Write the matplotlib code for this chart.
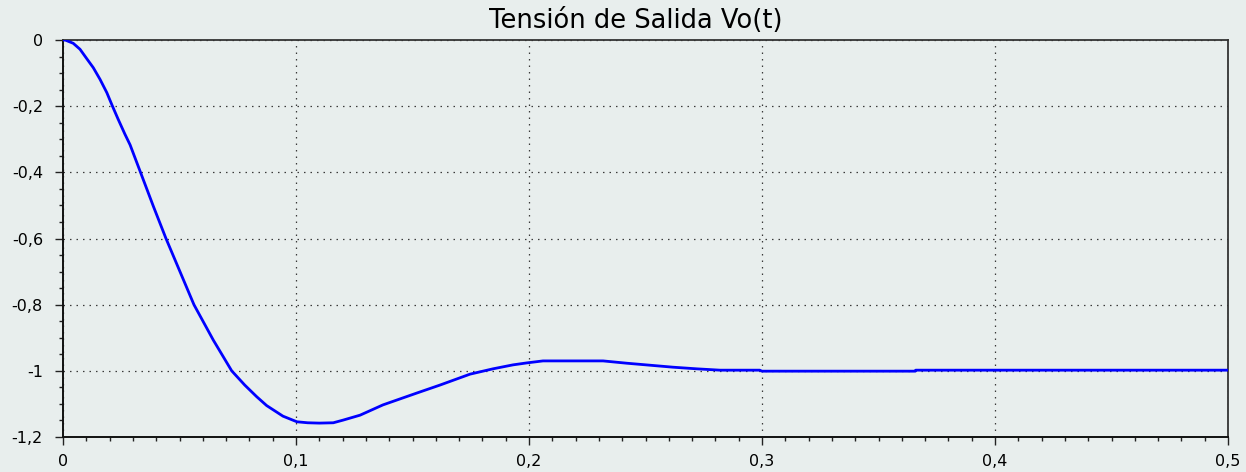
import matplotlib
matplotlib.use("Agg")
import matplotlib.pyplot as plt
from matplotlib.ticker import MultipleLocator, FuncFormatter

# Data
t = [0.0, 0.0009, 0.0044, 0.0073, 0.0102, 0.0130, 0.0159, 0.0188, 0.0212, 0.0237,
     0.0266, 0.0288, 0.033, 0.0388, 0.0442, 0.0502, 0.0562, 0.0645, 0.0724, 0.0780,
     0.0831, 0.0874, 0.0944, 0.1004, 0.105, 0.11, 0.116, 0.1202, 0.1275, 0.1373,
     0.1519, 0.1618, 0.1747, 0.1845, 0.1931, 0.1991, 0.206, 0.2318, 0.242, 0.2519,
     0.2618, 0.2721, 0.282, 0.299, 0.3, 0.3657, 0.366, 0.5]
vo = [0.0, 0.0, -0.010, -0.028, -0.0565, -0.0837, -0.119, -0.159, -0.1995, -0.240,
      -0.285, -0.317, -0.395, -0.503, -0.600, -0.700, -0.800, -0.907, -1.000, -1.043,
      -1.078, -1.105, -1.137, -1.154, -1.157, -1.158, -1.157, -1.149, -1.134, -1.103,
      -1.067, -1.043, -1.010, -0.994, -0.982, -0.976, -0.970, -0.970, -0.977, -0.983,
      -0.989, -0.994, -0.998, -0.998, -1.001, -1.001, -0.998, -0.998]

title = "Tensión de Salida Vo(t)"
x_limits = (0.0, 0.5)
y_limits = (-1.2, 0.0)

bg = "#e8eeed"
plt.rcParams["font.family"] = ["DejaVu Sans"]

fig = plt.figure(figsize=(12.46, 4.72), dpi=100, facecolor=bg)
ax = fig.add_axes([63 / 1246, 1 - 437 / 472, (1228 - 63) / 1246, (437 - 40) / 472])
ax.set_facecolor(bg)

ax.plot(t, vo, color="#0000ff", lw=2.0, solid_joinstyle="round", zorder=3)

ax.set_xlim(*x_limits)
ax.set_ylim(*y_limits)

ax.xaxis.set_major_locator(MultipleLocator(0.1))
ax.xaxis.set_minor_locator(MultipleLocator(0.01))
ax.yaxis.set_major_locator(MultipleLocator(0.2))
ax.yaxis.set_minor_locator(MultipleLocator(0.05))

def fmt(v, pos):
    if abs(v) < 1e-9:
        return "0"
    s = ("%.1f" % v).replace(".", ",")
    if s.endswith(",0"):
        s = s[:-2]
    return s

ax.xaxis.set_major_formatter(FuncFormatter(fmt))
ax.yaxis.set_major_formatter(FuncFormatter(fmt))

ax.tick_params(axis="both", which="major", direction="out", length=5.8, width=1.0,
               color="#222222", labelsize=11.5, labelcolor="black")
ax.tick_params(axis="y", which="major", pad=8.6)
ax.tick_params(axis="x", which="major", pad=6.2)
ax.tick_params(axis="both", which="minor", direction="out", length=2.9, width=1.0,
               color="#222222")

ax.grid(True, which="major", color="#3a3a3a", linestyle=(0, (1.2, 4.0)), linewidth=0.9)

for side in ["left", "bottom"]:
    ax.spines[side].set_color("#111111")
    ax.spines[side].set_linewidth(1.4)
for side in ["top", "right"]:
    ax.spines[side].set_color("#333333")
    ax.spines[side].set_linewidth(1.3)

ttl = ax.set_title(title, fontsize=18.5, color="black", pad=8.6)
ttl.set_x((635.5 - 63) / (1228 - 63))

fig.savefig("out.png", dpi=100, facecolor=bg)
